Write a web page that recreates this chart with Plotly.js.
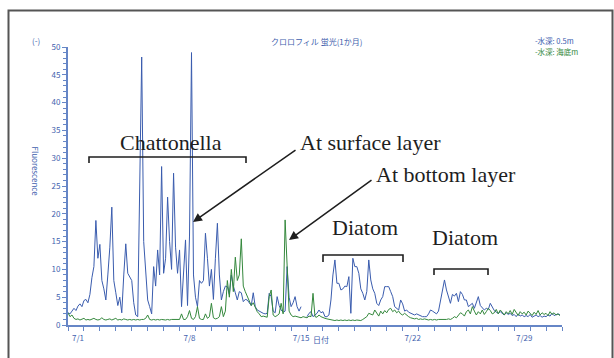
<!DOCTYPE html>
<html>
<head>
<meta charset="utf-8">
<script src="https://cdn.plot.ly/plotly-3.0.1.min.js"></script>
<style>
html,body{margin:0;padding:0;background:#fff;}
#chart{width:614px;height:358px;}
</style>
</head>
<body>
<div id="chart"></div>
<script>
// ---- data (3-hour samples from 7/1 00:00) ----
const startDate = '2024-07-01';
const stepHours = 3;

const surfaceValues = [
  2.2, 2.0, 2.5, 3.0, 2.6, 3.4, 3.8, 3.3, 4.4, 4.6,
  4.0, 5.5, 8.5, 10.5, 18.8, 12, 14.5, 8, 6.5, 4.5,
  9, 14, 21.2, 8, 5.8, 3.5, 5.0, 2.2, 9, 14.6,
  9.3, 8.5, 8, 4, 1.8, 1.5, 27.5, 48.2, 15, 9.9,
  4.5, 3.3, 2, 10.5, 7, 13.5, 9, 28.5, 9.3, 12,
  23, 15, 10, 27.3, 14, 9.3, 13.5, 3.3, 10, 15.3,
  3.5, 16, 49, 9, 5, 3.3, 8, 7.5, 8, 16.5,
  12, 7, 10, 4.6, 12, 18.3, 9, 4.5, 6, 7,
  6.9, 5.5, 9, 7, 5.8, 4.5, 6, 5.8, 4.2, 4.6,
  4.5, 4.0, 3.5, 5.8, 3.3, 2.7, 2.5, 2.2, 2.1, 2.0,
  2.1, 5.7, 5.1, 2.5, 2.2, 5.1, 3.5, 2.7, 2.3, 2.5,
  10.5, 5, 3.3, 4, 5.1, 3.3, 2.5, 3.3, null, null,
  1.5, 2.1, 2.4, 1.5, 1.8, 2.1, 2.7, 2.2, 2.4, 1.5,
  1.5, 1.8, 4.5, 9, 11.7, 7.5, 7.5, 6.3, 6.5, 7,
  6.9, 8.7, 2.1, 12, 10.5, 10.5, 9.3, 6.5, 5.7, 4.5,
  6, 11.7, 8.1, 6.5, 5.7, 3.9, 3.5, 4.5, 5.1, 6.9,
  6.9, 6.9, 6.0, 5.1, 3.3, 3.0, 2.7, 4.5, 3.8, 2.5,
  2.7, 2.3, 2.1, 2.0, 1.8, 2.0, 1.8, 1.6, 1.5, 1.5,
  1.5, 2.0, 2.7, 2.5, 2.2, 2.0, 2.5, 4.5, 6.5, 8.1,
  6.3, 5, 3.9, 5.5, 5.2, 5.7, 4.2, 6, 5.5, 4.5,
  4.5, 3.3, 3.6, 3.9, 3.0, 4.3, 5.1, 3.5, 3.0, 2.7,
  3.0, 2.8, 3.9, 3.2, 2.6, 2.3, 2.1, 2.4, 2.0, 1.8,
  2.2, 1.9, 2.1, 1.7, 1.9, 1.5, 2.0, 1.6, 1.8, 1.5,
  1.7, 1.5, 1.9, 1.4, 1.6, 1.8, 1.5, 1.7, 1.4, 1.6,
  1.5, 1.8, 1.6, 2.1, 1.7, 1.9, 2.0, 1.8
];

const bottomValues = [
  2.2, 1.5, 1.8, 1.2, 1.0, 1.1, 0.9, 1.0, 1.2, 0.9,
  1.0, 0.9, 1.1, 1.2, 1.0, 0.9, 1.0, 1.3, 1.0, 0.9,
  1.0, 1.1, 0.9, 1.0, 1.2, 0.9, 1.0, 0.9, 1.1, 1.0,
  0.9, 1.0, 0.9, 1.0, 0.9, 1.0, 0.9, 1.0, 1.0, 1.2,
  1.8, 1.0, 0.9, 1.0, 0.9, 1.0, 0.9, 1.0, 0.9, 0.9,
  1.0, 0.9, 1.0, 1.0, 1.0, 1.1, 1.0, 2.0, 1.0, 1.0,
  1.5, 2.6, 1.2, 1.0, 1.5, 3.3, 1.2, 1.0, 1.0, 2.0,
  1.2, 1.5, 3.9, 1.3, 1.1, 1.2, 1.5, 3.3, 1.5, 2.5,
  8, 5, 10, 6, 12.2, 8, 9, 15.5, 7, 6,
  5.2, 4.5, 3.5, 4, 3, 2.4, 2.0, 1.5, 1.6, 1.5,
  1.4, 5.1, 6.3, 1.8, 1.5, 1.7, 2.0, 3.9, 2.0, 18.9,
  11, 2.5, 1.8, 1.5, 1.6, 1.5, 1.5, 1.3, 1.5, 1.4,
  1.3, 1.6, 1.5, 5.7, 1.5, 1.4, 1.8, 1.5, 1.3, 1.2,
  1.1, 1.0, 0.9, 0.9, 0.8, 0.9, 0.8, 0.9, 0.8, 0.9,
  0.8, 0.9, 0.8, 0.9, 0.8, 0.9, 0.9, 0.8, 1.0, 1.2,
  1.5, 2.1, 2.0, 1.8, 2.7, 2.2, 1.6, 2.5, 2.0, 2.6,
  2.2, 2.8, 3.0, 2.4, 2.7, 2.2, 2.5, 2.0, 1.8, 2.1,
  1.7, 1.5, 1.3, 1.2, 1.1, 1.2, 1.0, 1.1, 1.0, 1.1,
  1.0, 0.9, 1.0, 0.9, 1.0, 0.9, 1.0, 1.0, 0.9, 1.0,
  1.0, 1.1, 1.0, 1.2, 1.5, 1.3, 1.8, 2.2, 2.0, 1.6,
  2.4, 2.7, 2.0, 3.3, 2.5, 1.8, 2.4, 2.0, 2.7, 1.9,
  2.4, 3.0, 2.6, 2.0, 2.2, 2.8, 2.0, 2.7, 2.3, 1.8,
  2.4, 2.0, 2.6, 1.9, 2.8, 2.2, 1.7, 2.4, 2.0, 2.3,
  1.8, 2.5, 2.1, 1.7, 2.3, 1.9, 2.6, 1.8, 2.2, 1.9,
  2.1, 1.7, 2.4, 1.9, 2.2, 1.8, 2.0, 1.7
];

const tickDates = ['2024-07-01', '2024-07-08', '2024-07-15', '2024-07-22', '2024-07-29'];
const tickLabels = ['7/1', '7/8', '7/15', '7/22', '7/29'];
const seriesNames = ['-水深: 0.5m', '-水深: 海底m'];
const chartTitle = 'クロロフィル 蛍光(1か月)';

// ---- time axis ----
function timeAt(i) {
  const d = new Date(Date.UTC(2024, 6, 1) + i * stepHours * 3600000);
  return d.toISOString().slice(0, 16).replace('T', ' ');
}
const times = surfaceValues.map((_, i) => timeAt(i));

// ---- layout helpers (pixel -> paper) ----
const W = 614, H = 358;
const M = {l: 68, r: 52, t: 47, b: 33};
const PW = W - M.l - M.r, PH = H - M.t - M.b;
const px = x => (x - M.l) / PW;
const py = y => (H - M.b - y) / PH;

const blue = '#3a5cae';
const green = '#34883c';
const axisBlue = '#6686c6';
const textBlue = '#3f5fae';
const ink = '#1e1e1e';

const traces = [
  {x: times, y: surfaceValues, type: 'scatter', mode: 'lines', name: seriesNames[0],
   line: {color: blue, width: 1}, connectgaps: false},
  {x: times, y: bottomValues, type: 'scatter', mode: 'lines', name: seriesNames[1],
   line: {color: green, width: 1}}
];

const serif = 'Liberation Serif, Times New Roman, serif';
const sans = 'Noto Sans CJK JP, Noto Sans, sans-serif';

function bracket(x0, x1, y, yd) {
  return {type: 'path', xref: 'paper', yref: 'paper',
    path: `M ${px(x0)} ${py(yd)} L ${px(x0)} ${py(y)} L ${px(x1)} ${py(y)} L ${px(x1)} ${py(yd)}`,
    line: {color: ink, width: 1.6}};
}

const layout = {
  width: W, height: H,
  margin: M,
  paper_bgcolor: '#fff', plot_bgcolor: '#fff',
  showlegend: false,
  xaxis: {
    type: 'date', range: ['2024-07-01', '2024-08-01'],
    tickmode: 'array', tickvals: tickDates, ticktext: tickLabels,
    ticks: 'outside', ticklen: 4, tickcolor: axisBlue, tickwidth: 1,
    ticklabelshift: 10,
    minor: {dtick: 86400000, tick0: '2024-07-01', ticks: 'outside', ticklen: 4, tickcolor: axisBlue, showgrid: false},
    showline: true, linecolor: axisBlue, linewidth: 2,
    showgrid: false, zeroline: false,
    tickfont: {family: sans, size: 8, color: textBlue}
  },
  yaxis: {
    range: [0, 50], tickmode: 'linear', tick0: 0, dtick: 5,
    ticks: 'outside', ticklen: 4, tickcolor: axisBlue,
    minor: {dtick: 1, ticks: 'outside', ticklen: 3, tickcolor: axisBlue, showgrid: false},
    showline: true, linecolor: axisBlue, linewidth: 2,
    showgrid: false, zeroline: false,
    tickfont: {family: sans, size: 8, color: textBlue}
  },
  yaxis2: {
    overlaying: 'y', anchor: 'x', side: 'left',
    range: [0, 50], tickmode: 'linear', tick0: 0, dtick: 5,
    ticks: 'inside', ticklen: 4, tickcolor: axisBlue, showticklabels: false,
    minor: {dtick: 1, ticks: 'inside', ticklen: 3, tickcolor: axisBlue, showgrid: false},
    showline: false, showgrid: false, zeroline: false
  },
  shapes: [
    {type: 'rect', xref: 'paper', yref: 'paper',
     x0: px(8.5), x1: px(612.5), y0: py(380), y1: py(10.5),
     line: {color: '#555', width: 2}},
    bracket(89, 246, 157, 163),
    bracket(323, 403, 255, 262),
    bracket(434, 488, 269, 275)
  ],
  annotations: [
    {text: chartTitle, xref: 'paper', yref: 'paper', x: px(316), y: py(34), showarrow: false,
     font: {family: sans, size: 8, color: textBlue}},
    {text: '(-)', xref: 'paper', yref: 'paper', x: px(30), y: py(33), showarrow: false,
     font: {family: sans, size: 8, color: textBlue}},
    {text: 'Fluorescence', xref: 'paper', yref: 'paper', x: px(28), y: py(171), showarrow: false,
     textangle: 90, font: {family: sans, size: 8, color: textBlue}},
    {text: '日付', xref: 'paper', yref: 'paper', x: px(321), y: py(347), showarrow: false,
     font: {family: sans, size: 8, color: textBlue}},
    {text: seriesNames[0], xref: 'paper', yref: 'paper', x: px(533), y: py(33), xanchor: 'left', showarrow: false,
     font: {family: sans, size: 7.5, color: blue}},
    {text: seriesNames[1], xref: 'paper', yref: 'paper', x: px(533), y: py(44), xanchor: 'left', showarrow: false,
     font: {family: sans, size: 7.5, color: green}},
    {text: 'Chattonella', xref: 'paper', yref: 'paper', x: px(118), y: py(142), xanchor: 'left', showarrow: false,
     font: {family: serif, size: 22, color: ink}},
    {text: 'At surface layer', xref: 'paper', yref: 'paper', x: px(298), y: py(142), xanchor: 'left', showarrow: false,
     font: {family: serif, size: 22, color: ink}},
    {text: 'At bottom layer', xref: 'paper', yref: 'paper', x: px(374), y: py(174), xanchor: 'left', showarrow: false,
     font: {family: serif, size: 22, color: ink}},
    {text: 'Diatom', xref: 'paper', yref: 'paper', x: px(330), y: py(242), xanchor: 'left', showarrow: false,
     font: {family: serif, size: 22, color: ink}},
    {text: 'Diatom', xref: 'paper', yref: 'paper', x: px(430), y: py(252), xanchor: 'left', showarrow: false,
     font: {family: serif, size: 22, color: ink}},
    {text: '', xref: 'paper', yref: 'paper', x: px(193), y: py(222), ax: 104, ay: -73,
     showarrow: true, arrowhead: 2, arrowsize: 1.2, arrowwidth: 1.5, arrowcolor: ink},
    {text: '', xref: 'paper', yref: 'paper', x: px(289), y: py(240), ax: 84, ay: -61,
     showarrow: true, arrowhead: 2, arrowsize: 1.2, arrowwidth: 1.5, arrowcolor: ink}
  ]
};

Plotly.newPlot('chart', traces, layout, {staticPlot: true, displayModeBar: false});
</script>
</body>
</html>
